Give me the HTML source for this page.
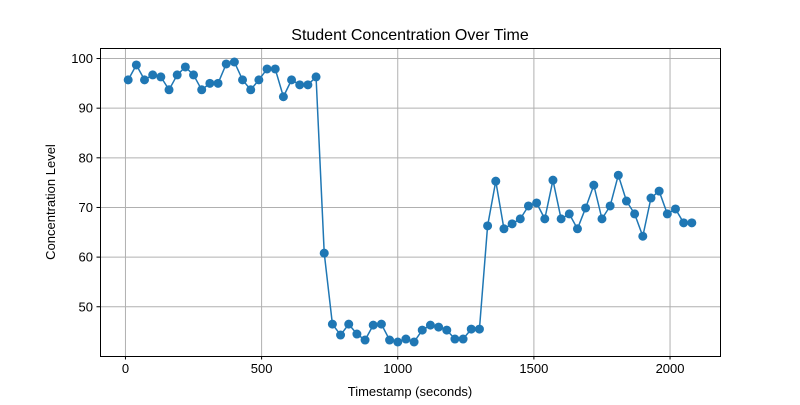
<!DOCTYPE html>
<html><head><meta charset="utf-8"><style>
body{margin:0;background:#fff}
svg text{font-family:"Liberation Sans","DejaVu Sans",sans-serif;fill:#000}
</style></head><body>
<svg id="chart" width="800" height="400" xmlns="http://www.w3.org/2000/svg">
<rect width="800" height="400" fill="#fff"/>
<g id="grid"></g>
<g id="series"></g>
<rect x="100.5" y="48.5" width="620" height="308" fill="none" stroke="#000" stroke-width="1"/>
<g id="axes"></g>
<text x="410" y="40" font-size="16" text-anchor="middle">Student Concentration Over Time</text>
<text x="410" y="396" font-size="13" text-anchor="middle">Timestamp (seconds)</text>
<text transform="translate(55,202) rotate(-90)" font-size="13" text-anchor="middle">Concentration Level</text>
</svg>
<script>
const values = [95.7,98.7,95.7,96.7,96.3,93.7,96.7,98.3,96.7,93.7,95.0,95.0,98.9,99.3,95.7,93.7,95.7,97.9,97.9,92.3,95.7,94.7,94.7,96.3,60.8,46.5,44.3,46.5,44.5,43.3,46.3,46.5,43.3,42.9,43.5,42.9,45.3,46.3,45.9,45.3,43.5,43.5,45.5,45.5,66.3,75.3,65.7,66.7,67.7,70.3,70.9,67.7,75.5,67.7,68.7,65.7,69.9,74.5,67.7,70.3,76.5,71.3,68.7,64.2,71.9,73.3,68.7,69.7,66.9,66.9];
const timestamps = values.map((v,i)=>10+30*i);
const xTicks = [0,500,1000,1500,2000];
const yTicks = [50,60,70,80,90,100];

const L=100,R=720,T=48,B=356;
const xmin0=Math.min(...timestamps),xmax0=Math.max(...timestamps);
const ymin0=Math.min(...values),ymax0=Math.max(...values);
const xm=(xmax0-xmin0)*0.05, ym=(ymax0-ymin0)*0.05;
const xlo=xmin0-xm,xhi=xmax0+xm,ylo=ymin0-ym,yhi=ymax0+ym;
const sx=v=>L+(v-xlo)/(xhi-xlo)*(R-L);
const sy=v=>B-(v-ylo)/(yhi-ylo)*(B-T);
const NS="http://www.w3.org/2000/svg";
function mk(tag,attrs,parent){const e=document.createElementNS(NS,tag);for(const k in attrs)e.setAttribute(k,attrs[k]);parent.appendChild(e);return e;}
const grid=document.getElementById('grid'),axes=document.getElementById('axes'),series=document.getElementById('series');
xTicks.forEach(t=>{const x=sx(t);
 const g=mk('line',{x1:x,x2:x,y1:T,y2:B,stroke:'#b0b0b0','stroke-width':1},grid);
 
 
 const tk=mk('line',{x1:x,x2:x,y1:B,y2:B+3.5,stroke:'#000'},axes);
 
 
 const tx=mk('text',{x:x,y:B+17,'font-size':13,'text-anchor':'middle'},axes);tx.textContent=t;
 
 
});
yTicks.forEach(t=>{const y=sy(t);
 const g=mk('line',{x1:L,x2:R,y1:y,y2:y,stroke:'#b0b0b0','stroke-width':1},grid);
 
 
 const tk=mk('line',{x1:L-3.5,x2:L,y1:y,y2:y,stroke:'#000'},axes);
 
 
 const tx=mk('text',{x:L-7,y:y+4.5,'font-size':13,'text-anchor':'end'},axes);tx.textContent=t;
 
 
});
const pts=values.map((v,i)=>sx(timestamps[i]).toFixed(2)+','+sy(v).toFixed(2)).join(' ');
const line=mk('polyline',{points:pts,fill:'none',stroke:'#1f77b4','stroke-width':1.5},series);


values.forEach((v,i)=>{
 const c=mk('circle',{cx:sx(timestamps[i]),cy:sy(v),r:4.5,fill:'#1f77b4'},series);
 
 
});
</script>
</body></html>
